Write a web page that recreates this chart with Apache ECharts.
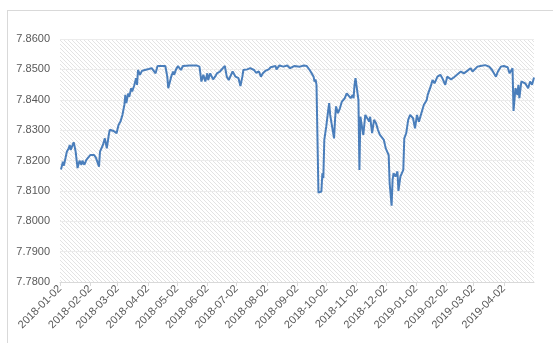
<!DOCTYPE html>
<html lang="en">
<head>
    <meta charset="UTF-8">
    <title>Rate chart</title>
    <script src="https://cdn.jsdelivr.net/npm/echarts@6/dist/echarts.min.js"></script>
    <style>
        body { margin: 0; background: #fff; overflow: hidden; }
        #frame { position: absolute; left: 7px; top: 10px; width: 620px; height: 420px; border: 1px solid #d9d9d9; }
        #main { position: absolute; left: 0; top: 0; width: 553px; height: 343px; }
    </style>
</head>
<body>
<div id="frame"></div>
<div id="main"></div>

<script>
    // 读图得到的点：日期 + 汇率
    var dates = [
        '2018-01-03','2018-01-05','2018-01-06','2018-01-09','2018-01-11','2018-01-12','2018-01-13','2018-01-16','2018-01-17','2018-01-18',
        '2018-01-20','2018-01-22','2018-01-24','2018-01-25','2018-01-27','2018-01-29','2018-01-31','2018-02-02','2018-02-04','2018-02-06',
        '2018-02-08','2018-02-10','2018-02-11','2018-02-12','2018-02-14','2018-02-15','2018-02-17','2018-02-19','2018-02-21','2018-02-22',
        '2018-02-26','2018-03-01','2018-03-03','2018-03-05','2018-03-07','2018-03-09','2018-03-10','2018-03-11','2018-03-13','2018-03-14',
        '2018-03-16','2018-03-17','2018-03-19','2018-03-21','2018-03-22','2018-03-23','2018-03-25','2018-03-27','2018-03-30','2018-04-03',
        '2018-04-06','2018-04-10','2018-04-12','2018-04-20','2018-04-22','2018-04-23','2018-04-24','2018-04-26','2018-04-28','2018-04-29',
        '2018-05-01','2018-05-03','2018-05-06','2018-05-08','2018-05-15','2018-05-22','2018-05-25','2018-05-27','2018-05-29','2018-05-31',
        '2018-06-02','2018-06-03','2018-06-05','2018-06-08','2018-06-10','2018-06-12','2018-06-15','2018-06-18','2018-06-20','2018-06-22',
        '2018-06-24','2018-06-26','2018-06-28','2018-07-01','2018-07-02','2018-07-04','2018-07-06','2018-07-08','2018-07-09','2018-07-13',
        '2018-07-16','2018-07-20','2018-07-22','2018-07-25','2018-07-27','2018-07-29','2018-08-01','2018-08-04','2018-08-06','2018-08-08',
        '2018-08-11','2018-08-12','2018-08-15','2018-08-19','2018-08-23','2018-08-26','2018-08-30','2018-09-05','2018-09-09','2018-09-12',
        '2018-09-15','2018-09-17','2018-09-19','2018-09-20','2018-09-21','2018-09-22','2018-09-24','2018-09-25','2018-09-27','2018-09-28',
        '2018-09-29','2018-09-30','2018-10-02','2018-10-04','2018-10-05','2018-10-06','2018-10-08','2018-10-10','2018-10-11','2018-10-12',
        '2018-10-14','2018-10-16','2018-10-18','2018-10-21','2018-10-23','2018-10-25','2018-10-27','2018-10-29','2018-10-30','2018-10-31',
        '2018-11-01','2018-11-03','2018-11-04','2018-11-05','2018-11-06','2018-11-08','2018-11-09','2018-11-11','2018-11-13','2018-11-15',
        '2018-11-16','2018-11-18','2018-11-20','2018-11-22','2018-11-24','2018-11-26','2018-11-28','2018-11-30','2018-12-02','2018-12-03',
        '2018-12-05','2018-12-06','2018-12-08','2018-12-09','2018-12-10','2018-12-12','2018-12-14','2018-12-15','2018-12-17','2018-12-20',
        '2018-12-21','2018-12-23','2018-12-25','2018-12-27','2018-12-30','2019-01-01','2019-01-03','2019-01-05','2019-01-07','2019-01-10',
        '2019-01-13','2019-01-14','2019-01-17','2019-01-19','2019-01-21','2019-01-24','2019-01-27','2019-01-29','2019-01-31','2019-02-01',
        '2019-02-03','2019-02-07','2019-02-10','2019-02-13','2019-02-17','2019-02-20','2019-02-24','2019-02-27','2019-03-01','2019-03-02',
        '2019-03-06','2019-03-09','2019-03-14','2019-03-18','2019-03-21','2019-03-25','2019-03-27','2019-03-30','2019-04-02','2019-04-06',
        '2019-04-08','2019-04-11','2019-04-12','2019-04-14','2019-04-16','2019-04-17','2019-04-18','2019-04-20','2019-04-24','2019-04-26',
        '2019-04-27','2019-04-29','2019-05-01','2019-05-03'
    ];
    var rates = [
        7.8170,7.8196,7.8183,7.8229,7.8240,7.8251,7.8235,7.8260,7.8246,7.8230,
        7.8175,7.8199,7.8186,7.8199,7.8186,7.8202,7.8196,7.8218,7.8213,7.8218,
        7.8208,7.8208,7.8180,7.8229,7.8235,7.8251,7.8273,7.8240,7.8284,7.8301,
        7.8297,7.8290,7.8317,7.8328,7.8350,7.8383,7.8416,7.8389,7.8421,7.8410,
        7.8438,7.8427,7.8446,7.8471,7.8449,7.8498,7.8482,7.8495,7.8498,7.8501,
        7.8504,7.8487,7.8511,7.8511,7.8476,7.8438,7.8432,7.8476,7.8493,7.8482,
        7.8500,7.8511,7.8498,7.8511,7.8513,7.8513,7.8509,7.8460,7.8482,7.8460,
        7.8487,7.8465,7.8487,7.8467,7.8476,7.8487,7.8493,7.8504,7.8511,7.8476,
        7.8465,7.8471,7.8493,7.8476,7.8482,7.8471,7.8445,7.8476,7.8498,7.8500,
        7.8504,7.8498,7.8489,7.8493,7.8476,7.8487,7.8496,7.8500,7.8507,7.8504,
        7.8511,7.8500,7.8513,7.8509,7.8513,7.8504,7.8511,7.8509,7.8513,7.8511,
        7.8498,7.8487,7.8476,7.8460,7.8467,7.8449,7.8094,7.8092,7.8098,7.8158,
        7.8142,7.8268,7.8312,7.8366,7.8389,7.8350,7.8344,7.8273,7.8334,7.8378,
        7.8356,7.8372,7.8394,7.8405,7.8421,7.8416,7.8405,7.8416,7.8405,7.8449,
        7.8471,7.8465,7.8399,7.8169,7.8344,7.8339,7.8284,7.8350,7.8339,7.8328,
        7.8344,7.8290,7.8334,7.8323,7.8301,7.8284,7.8279,7.8268,7.8240,7.8235,
        7.8218,7.8125,7.8051,7.8136,7.8158,7.8147,7.8164,7.8100,7.8147,7.8169,
        7.8273,7.8290,7.8334,7.8350,7.8339,7.8306,7.8350,7.8328,7.8350,7.8383,
        7.8399,7.8416,7.8443,7.8465,7.8454,7.8476,7.8482,7.8471,7.8474,7.8449,
        7.8476,7.8467,7.8474,7.8482,7.8493,7.8487,7.8496,7.8504,7.8493,7.8498,
        7.8509,7.8511,7.8514,7.8509,7.8498,7.8476,7.8493,7.8509,7.8511,7.8507,
        7.8487,7.8504,7.8363,7.8438,7.8416,7.8449,7.8405,7.8460,7.8454,7.8460,
        7.8438,7.8460,7.8449,7.8473
    ];
    var yMin = 7.78, yMax = 7.86, yStep = 0.01;
    var axisStart = '2018-01-02', axisEnd = '2019-05-03', lastLabel = '2019-04-02';

    // 日期轴：逐日类目
    var days = [];
    var d = new Date(axisStart + 'T00:00:00Z');
    var end = new Date(axisEnd + 'T00:00:00Z');
    while (d <= end) {
        days.push(d.toISOString().slice(0, 10));
        d.setUTCDate(d.getUTCDate() + 1);
    }
    function monthTick(index, value) {
        return value.slice(8) === '02' && value <= lastLabel;
    }

    // 斜线底纹
    var hatch = document.createElement('canvas');
    hatch.width = 4;
    hatch.height = 4;
    var ctx = hatch.getContext('2d');
    ctx.fillStyle = '#ffffff';
    ctx.fillRect(0, 0, 4, 4);
    ctx.strokeStyle = '#e3e3e3';
    ctx.lineWidth = 1;
    ctx.beginPath();
    ctx.moveTo(-1, -1); ctx.lineTo(5, 5);
    ctx.moveTo(-1, 3); ctx.lineTo(1, 5);
    ctx.moveTo(3, -1); ctx.lineTo(5, 1);
    ctx.stroke();

    var chart = echarts.init(document.getElementById('main'));
    var option = {
        backgroundColor: 'transparent',
        animation: false,
        grid: {
            left: 60,
            right: 19,
            top: 39,
            bottom: 61,
            show: true,
            borderWidth: 0,
            backgroundColor: { image: hatch, repeat: 'repeat' }
        },
        xAxis: {
            type: 'category',
            data: days,
            boundaryGap: false,
            axisLine: { lineStyle: { color: '#d9d9d9' } },
            axisTick: { show: true, interval: monthTick, length: 4, lineStyle: { color: '#d9d9d9' } },
            axisLabel: {
                interval: monthTick,
                rotate: 45,
                margin: 5,
                color: '#595959',
                fontSize: 11,
                fontFamily: 'Liberation Sans'
            },
            splitLine: { show: false }
        },
        yAxis: {
            type: 'value',
            min: yMin,
            max: yMax,
            interval: yStep,
            axisLine: { show: false },
            axisTick: { show: false },
            axisLabel: {
                color: '#595959',
                fontSize: 11,
                fontFamily: 'Liberation Sans',
                margin: 10,
                formatter: function (v) { return v.toFixed(4); }
            },
            splitLine: { lineStyle: { color: '#ececec', width: 1 } }
        },
        series: [{
            type: 'line',
            data: dates.map(function (t, i) { return [t, rates[i]]; }),
            showSymbol: false,
            lineStyle: { color: '#4a7ebb', width: 2 },
            itemStyle: { color: '#4a7ebb' }
        }]
    };
    chart.setOption(option);
</script>
</body>
</html>
